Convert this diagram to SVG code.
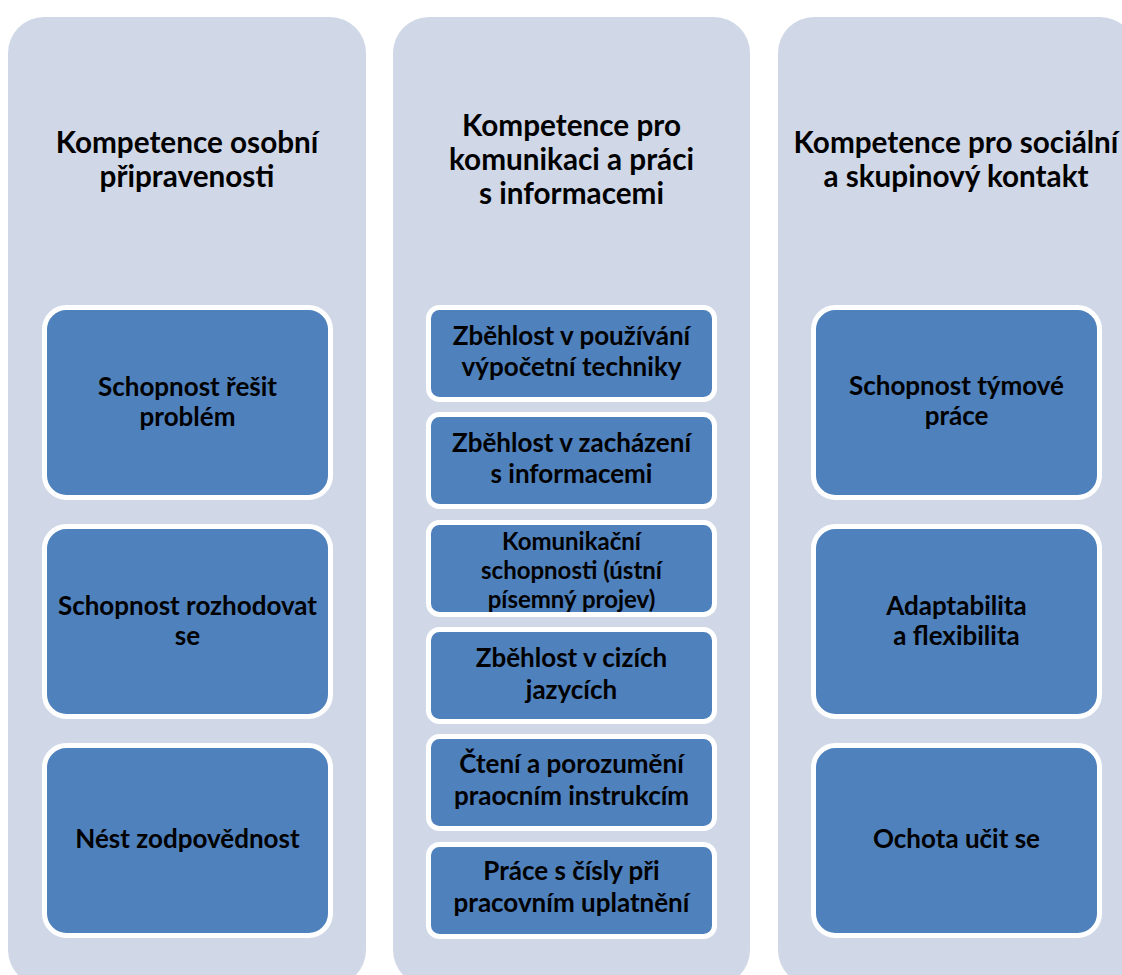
<svg xmlns="http://www.w3.org/2000/svg" width="1122" height="975" viewBox="0 0 1122 975">
<style>
.panel{fill:#D0D8E8;}
.box{fill:#4F81BD;stroke:#FFFFFF;stroke-width:5;}
.t{font-family:Lato,"Open Sans","Liberation Sans",sans-serif;font-weight:bold;fill:#000000;text-anchor:middle;}
.title{font-size:29.7px;}
.lbl{font-size:26px;}
.lbl-s{font-size:24px;}
</style>
<rect width="1122" height="975" fill="#FFFFFF"/>
<g id="panel-osobni">
<rect class="panel" x="8" y="17" width="358" height="969" rx="36"/>
<text class="t title" x="187"><tspan x="187" y="153">Kompetence osobní</tspan><tspan x="187" y="187">připravenosti</tspan></text>
</g>
<g id="panel-komunikace">
<rect class="panel" x="393" y="17" width="357" height="969" rx="36"/>
<text class="t title"><tspan x="571.5" y="136">Kompetence pro</tspan><tspan x="571.5" y="170">komunikaci a práci</tspan><tspan x="571.5" y="204">s informacemi</tspan></text>
</g>
<g id="panel-socialni">
<rect class="panel" x="778" y="17" width="358" height="969" rx="36"/>
<text class="t title"><tspan x="956" y="153">Kompetence pro sociální</tspan><tspan x="956" y="187">a skupinový kontakt</tspan></text>
</g>
<g id="connectors"></g>
<g id="node-l1">
<rect class="box" x="44.5" y="307.5" width="286" height="190" rx="22"/>
<text class="t lbl"><tspan x="187.5" y="396">Schopnost řešit</tspan><tspan x="187.5" y="426">problém</tspan></text>
</g>
<g id="node-l2">
<rect class="box" x="44.5" y="526.5" width="286" height="190" rx="22"/>
<text class="t lbl"><tspan x="187.5" y="615">Schopnost rozhodovat</tspan><tspan x="187.5" y="645">se</tspan></text>
</g>
<g id="node-l3">
<rect class="box" x="44.5" y="745.5" width="286" height="190" rx="22"/>
<text class="t lbl" x="187.5" y="848">Nést zodpovědnost</text>
</g>
<g id="node-m1">
<rect class="box" x="428.5" y="307.5" width="286" height="92" rx="11"/>
<text class="t lbl"><tspan x="571.5" y="345">Zběhlost v používání</tspan><tspan x="571.5" y="376">výpočetní techniky</tspan></text>
</g>
<g id="node-m2">
<rect class="box" x="428.5" y="414.5" width="286" height="92" rx="11"/>
<text class="t lbl"><tspan x="571.5" y="452">Zběhlost v zacházení</tspan><tspan x="571.5" y="483">s informacemi</tspan></text>
</g>
<g id="node-m3">
<rect class="box" x="428.5" y="522.5" width="286" height="92" rx="11"/>
<text class="t lbl-s"><tspan x="571.5" y="550">Komunikační</tspan><tspan x="571.5" y="579">schopnosti (ústní</tspan><tspan x="571.5" y="608">písemný projev)</tspan></text>
</g>
<g id="node-m4">
<rect class="box" x="428.5" y="629.5" width="286" height="92" rx="11"/>
<text class="t lbl"><tspan x="571.5" y="667">Zběhlost v cizích</tspan><tspan x="571.5" y="699">jazycích</tspan></text>
</g>
<g id="node-m5">
<rect class="box" x="428.5" y="736.5" width="286" height="92" rx="11"/>
<text class="t lbl"><tspan x="571.5" y="773">Čtení a porozumění</tspan><tspan x="571.5" y="805">praocním instrukcím</tspan></text>
</g>
<g id="node-m6">
<rect class="box" x="428.5" y="844.5" width="286" height="92" rx="11"/>
<text class="t lbl"><tspan x="571.5" y="880">Práce s čísly při</tspan><tspan x="571.5" y="912">pracovním uplatnění</tspan></text>
</g>
<g id="node-r1">
<rect class="box" x="813.5" y="307.5" width="286" height="190" rx="22"/>
<text class="t lbl"><tspan x="956.5" y="395">Schopnost týmové</tspan><tspan x="956.5" y="425">práce</tspan></text>
</g>
<g id="node-r2">
<rect class="box" x="813.5" y="526.5" width="286" height="190" rx="22"/>
<text class="t lbl"><tspan x="956.5" y="615">Adaptabilita</tspan><tspan x="956.5" y="645">a flexibilita</tspan></text>
</g>
<g id="node-r3">
<rect class="box" x="813.5" y="745.5" width="286" height="190" rx="22"/>
<text class="t lbl" x="956.5" y="848">Ochota učit se</text>
</g>
</svg>
